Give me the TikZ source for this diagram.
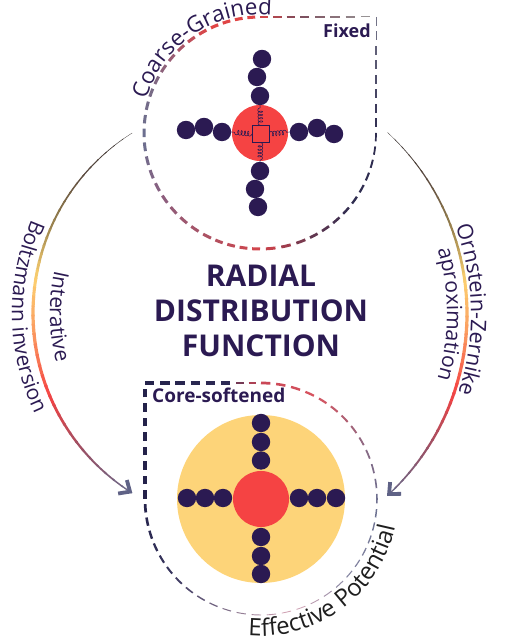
\documentclass[tikz,border=0pt]{standalone}
\usepackage{fontspec}
\setmainfont{Open Sans}
\usetikzlibrary{calc,decorations.text,decorations.pathmorphing}

% main palette
\definecolor{navy}{HTML}{2B1A52}
\definecolor{corered}{HTML}{F54343}
\definecolor{halo}{HTML}{FDD479}
\definecolor{arrowgray}{HTML}{5F6286}
\definecolor{ink}{HTML}{1E1E1E}
% outline of the fixed model
\definecolor{tgy}{HTML}{77778A}
\definecolor{tnv}{HTML}{2F2D50}
\definecolor{tdm}{HTML}{6A3850}
\definecolor{trd}{HTML}{D5434A}
\definecolor{tmr}{HTML}{B05060}
\definecolor{tmv}{HTML}{8A6080}
\definecolor{tsl}{HTML}{6A7090}
\definecolor{tsm}{HTML}{7A6A85}
\definecolor{tpm}{HTML}{A05A70}
\definecolor{trr}{HTML}{E04545}
\definecolor{ttm}{HTML}{7A4A5A}
\definecolor{tgr}{HTML}{9A9A9A}
% outline of the core-softened model
\definecolor{bnv}{HTML}{24224A}
\definecolor{bnb}{HTML}{2D2A55}
\definecolor{bdm}{HTML}{5A3555}
\definecolor{brd}{HTML}{C84555}
\definecolor{brp}{HTML}{D85560}
\definecolor{bmv}{HTML}{8A6A85}
\definecolor{bsl}{HTML}{6A7090}
\definecolor{bsg}{HTML}{8A8AA5}
\definecolor{bpk}{HTML}{D8A8B8}
\definecolor{bgm}{HTML}{8A7890}
\definecolor{bnc}{HTML}{3A3860}
% connector gradient
\definecolor{gza}{HTML}{3A3535}
\definecolor{gzb}{HTML}{5A4A40}
\definecolor{gzc}{HTML}{A08850}
\definecolor{gzd}{HTML}{FCD070}
\definecolor{gze}{HTML}{FB9A60}
\definecolor{gzf}{HTML}{F44343}
\definecolor{gzg}{HTML}{9A5065}
\definecolor{gzh}{HTML}{6A6A8A}

% dashes along an arc: center, radius, a1, a2, c1, c2, w1, w2, count
\newcommand\dasharc[9]{%
  \foreach \k in {1,...,#9}{%
    \pgfmathsetmacro\dA{(#3)+((#4)-(#3))*(\k-1)/#9}%
    \pgfmathsetmacro\dB{(#3)+((#4)-(#3))*(\k-0.38)/#9}%
    \pgfmathtruncatemacro\dmix{100*(\k-0.5)/#9}%
    \pgfmathsetmacro\dwid{(#7)+((#8)-(#7))*(\k-0.5)/#9}%
    \draw[line width=\dwid pt, color=#6!\dmix!#5] ($(#1)+(\dA:#2)$) arc[start angle=\dA, end angle=\dB, radius=#2];
  }}
% dashes along a straight piece: p1, p2, c1, c2, w1, w2, count
\newcommand\dashseg[7]{%
  \foreach \k in {1,...,#7}{%
    \pgfmathsetmacro\dA{(\k-1)/#7}%
    \pgfmathsetmacro\dB{(\k-0.38)/#7}%
    \pgfmathtruncatemacro\dmix{100*(\k-0.5)/#7}%
    \pgfmathsetmacro\dwid{(#5)+((#6)-(#5))*(\k-0.5)/#7}%
    \draw[line width=\dwid pt, color=#4!\dmix!#3] ($(#1)!\dA!(#2)$) -- ($(#1)!\dB!(#2)$);
  }}
% continuous shaded arc: center, radius, a1, a2, c1, c2, w1, w2, count
\newcommand\gradarc[9]{%
  \foreach \k in {1,...,#9}{%
    \pgfmathsetmacro\dA{(#3)+((#4)-(#3))*(\k-1)/#9}%
    \pgfmathsetmacro\dB{(#3)+((#4)-(#3))*(\k+0.2)/#9}%
    \pgfmathtruncatemacro\dmix{100*(\k-0.5)/#9}%
    \pgfmathsetmacro\dwid{(#7)+((#8)-(#7))*(\k-0.5)/#9}%
    \draw[line width=\dwid pt, color=#6!\dmix!#5] ($(#1)+(\dA:#2)$) arc[start angle=\dA, end angle=\dB, radius=#2];
  }}
% a full connector from angle a0 to angle a1
\newcommand\connector[4]{%
  \pgfmathsetmacro\sA{#3}%
  \pgfmathsetmacro\sB{(#3)+((#4)-(#3))*0.15}%
  \pgfmathsetmacro\sC{(#3)+((#4)-(#3))*0.30}%
  \pgfmathsetmacro\sD{(#3)+((#4)-(#3))*0.42}%
  \pgfmathsetmacro\sE{(#3)+((#4)-(#3))*0.55}%
  \pgfmathsetmacro\sF{(#3)+((#4)-(#3))*0.70}%
  \pgfmathsetmacro\sG{(#3)+((#4)-(#3))*0.85}%
  \pgfmathsetmacro\sH{#4}%
  \gradarc{#1}{#2}{\sA}{\sB}{gza}{gzb}{0.2}{1.3}{6}%
  \gradarc{#1}{#2}{\sB}{\sC}{gzb}{gzc}{1.3}{2.2}{6}%
  \gradarc{#1}{#2}{\sC}{\sD}{gzc}{gzd}{2.2}{3.0}{6}%
  \gradarc{#1}{#2}{\sD}{\sE}{gzd}{gze}{3.0}{3.3}{6}%
  \gradarc{#1}{#2}{\sE}{\sF}{gze}{gzf}{3.3}{3.0}{6}%
  \gradarc{#1}{#2}{\sF}{\sG}{gzf}{gzg}{3.0}{2.2}{6}%
  \gradarc{#1}{#2}{\sG}{\sH}{gzg}{gzh}{2.2}{1.3}{6}%
}

\begin{document}
\begin{tikzpicture}[x=1pt,y=1pt,line cap=butt,
  ball/.style={circle, fill=navy, draw=none, minimum size=18.4pt, inner sep=0pt},
  corebead/.style={circle, fill=corered, draw=none, minimum size=56pt, inner sep=0pt},
  spring/.style={draw=navy, line width=0.55pt, decorate,
    decoration={coil, aspect=0.6, segment length=3.3pt, amplitude=2.4pt}},
  arrowhead/.style={draw=arrowgray, line width=3.8pt, line join=miter},
  titletext/.style={font=\fontsize{30}{30}\selectfont\bfseries, text=navy, anchor=base, inner sep=0pt},
  tag/.style={text=navy, anchor=base west, inner sep=0pt}]
\useasboundingbox (0,0) rectangle (507,644);

% ---------- reference points ----------
\coordinate (C1) at (260,511);   % centre of the fixed model
\coordinate (K1) at (376,627);   % its square corner
\coordinate (C2) at (261,145);   % centre of the core-softened model
\coordinate (K2) at (145,261);   % its square corner
\coordinate (LC) at (246,331);   % centre of the left connector arc
\coordinate (RC) at (220,330);   % centre of the right connector arc

% ---------- dashed outline, fixed model ----------
\dashseg{K1}{376,511}{tgy}{tnv}{0.8}{1.6}{8}
\dasharc{C1}{116pt}{0}{-40}{tnv}{tnv}{1.6}{2.4}{6}
\dasharc{C1}{116pt}{-40}{-67}{tnv}{tdm}{2.4}{2.8}{4}
\dasharc{C1}{116pt}{-67}{-90}{tdm}{trd}{2.8}{3.0}{3}
\dasharc{C1}{116pt}{-90}{-115}{trd}{tmr}{3.0}{3.0}{4}
\dasharc{C1}{116pt}{-115}{-150}{tmr}{tmv}{3.0}{3.0}{5}
\dasharc{C1}{116pt}{-150}{-178}{tmv}{tsl}{3.0}{3.0}{4}
\dasharc{C1}{116pt}{-178}{-205}{tsl}{tsm}{3.0}{3.0}{4}
\dasharc{C1}{116pt}{-205}{-225}{tsm}{tpm}{3.0}{3.0}{3}
\dasharc{C1}{116pt}{-225}{-245}{tpm}{trr}{3.0}{3.2}{3}
\dasharc{C1}{116pt}{-245}{-270}{trr}{trr}{3.2}{3.0}{4}
\dashseg{260,627}{300,627}{trr}{ttm}{3.0}{2.0}{3}
\dashseg{300,627}{K1}{ttm}{tgr}{1.8}{0.9}{5}

% ---------- dashed outline, core-softened model ----------
\dashseg{K2}{236,261}{bnv}{bnb}{3.2}{3.0}{6}
\dashseg{236,261}{261,261}{bdm}{brd}{3.0}{2.8}{2}
\dasharc{C2}{116pt}{90}{60}{brd}{brp}{2.8}{2.2}{4}
\dasharc{C2}{116pt}{60}{25}{brp}{bmv}{2.2}{1.8}{5}
\dasharc{C2}{116pt}{25}{-5}{bmv}{bsl}{1.8}{1.5}{4}
\dasharc{C2}{116pt}{-5}{-45}{bsl}{bsg}{1.5}{1.1}{6}
\dasharc{C2}{116pt}{-45}{-75}{bsg}{bpk}{1.1}{0.8}{4}
\dasharc{C2}{116pt}{-75}{-105}{bpk}{bgm}{0.8}{1.0}{4}
\dasharc{C2}{116pt}{-105}{-140}{bgm}{bnc}{1.0}{1.9}{5}
\dasharc{C2}{116pt}{-140}{-180}{bnc}{bnv}{1.9}{2.8}{6}
\dashseg{145,145}{K2}{bnv}{bnv}{3.0}{3.2}{8}

% ---------- fixed (bonded) model ----------
\node[corebead] (core1) at (C1) {};
\node[ball] (tu1) at (262,585) {};
\node[ball] (tu2) at (257,567) {};
\node[ball] (tu3) at (260,548) {};
\node[ball] (tl1) at (186,514) {};
\node[ball] (tl2) at (204,517) {};
\node[ball] (tl3) at (222,512) {};
\node[ball] (tr3) at (299,512) {};
\node[ball] (tr2) at (317,516) {};
\node[ball] (tr1) at (334,510) {};
\node[ball] (td3) at (260,473) {};
\node[ball] (td2) at (255,455) {};
\node[ball] (td1) at (258,437) {};
\coordinate (sqn) at (260.5,518.5);
\coordinate (sqs) at (260.5,501.5);
\coordinate (sqw) at (252,510);
\coordinate (sqe) at (269,510);
\draw[spring] (sqn) -- (tu3.south);
\draw[spring] (sqs) -- (td3.north);
\draw[spring] (sqw) -- (tl3.east);
\draw[spring] (sqe) -- (tr3.west);
\node[draw=navy, line width=0.7pt, fill=corered, minimum size=17pt, inner sep=0pt] (sq) at (260.5,510) {};

% ---------- core-softened model ----------
\node[circle, fill=halo, minimum size=168pt, inner sep=0pt] (halo) at (C2) {};
\node[corebead] (core2) at (C2) {};
\node[ball] (bu1) at (261,221) {};
\node[ball] (bu2) at (261,202) {};
\node[ball] (bu3) at (261,183.5) {};
\node[ball] (bl1) at (187,146) {};
\node[ball] (bl2) at (205,146) {};
\node[ball] (bl3) at (223,146) {};
\node[ball] (br3) at (299,146) {};
\node[ball] (br2) at (317,146) {};
\node[ball] (br1) at (336,146) {};
\node[ball] (bd3) at (261,107) {};
\node[ball] (bd2) at (261,88) {};
\node[ball] (bd1) at (261,70) {};

% ---------- connectors ----------
\coordinate (lstart) at ($(LC)+(122.3:213pt)$);
\coordinate (lend) at ($(LC)+(237:213pt)$);
\coordinate (rstart) at ($(RC)+(47.3:247pt)$);
\coordinate (rend) at ($(RC)+(-46.8:247pt)$);
\connector{LC}{213pt}{122.3}{237}
\connector{RC}{247pt}{47.3}{-46.8}
\draw[arrowhead] ($(lend)+(105:12pt)$) -- (lend) -- ($(lend)+(189:12pt)$);
\draw[arrowhead] ($(rend)+(85:12pt)$) -- (rend) -- ($(rend)+(1:12pt)$);

% ---------- texts ----------
\node[titletext] (title1) at (261,357) {RADIAL};
\node[titletext] (title2) at (261,322) {DISTRIBUTION};
\node[titletext] (title3) at (261,287) {FUNCTION};
\node[tag, font=\fontsize{18}{18}\selectfont\bfseries] (fixed) at (323,606) {Fixed};
\node[tag, font=\fontsize{19}{19}\selectfont\bfseries] (soft) at (152,241) {Core-softened};

\path[decorate, decoration={text along path, text align=center, text color=navy,
  text={|\fontsize{22.5}{22.5}\selectfont|Coarse-Grained}}]
  ($(C1)+(184:118.5pt)$) arc[start angle=184, end angle=64, radius=118.5pt];
\path[decorate, decoration={text along path, text align=center, text color=ink,
  text={|\fontsize{24}{24}\selectfont|Effective Potential}}]
  ($(C2)+(-113.5:137pt)$) arc[start angle=-113.5, end angle=6.5, radius=137pt];
\path[decorate, decoration={text along path, text align=center, text color=navy,
  text={|\fontsize{21}{21}\selectfont|Interative}}]
  ($(LC)+(121:196pt)$) arc[start angle=121, end angle=241, radius=196pt];
\path[decorate, decoration={text along path, text align=center, text color=navy,
  text={|\fontsize{21}{21}\selectfont|Boltzmann inversion}}]
  ($(LC)+(121:234pt)$) arc[start angle=121, end angle=241, radius=234pt];
\path[decorate, decoration={text along path, text align=center, text color=navy,
  text={|\fontsize{21.5}{21.5}\selectfont|Ornstein-Zernike}}]
  ($(RC)+(61:251pt)$) arc[start angle=61, end angle=-59, radius=251pt];
\path[decorate, decoration={text along path, text align=center, text color=navy,
  text={|\fontsize{21}{21}\selectfont|aproximation}}]
  ($(RC)+(60:227pt)$) arc[start angle=60, end angle=-60, radius=227pt];
\end{tikzpicture}
\end{document}
